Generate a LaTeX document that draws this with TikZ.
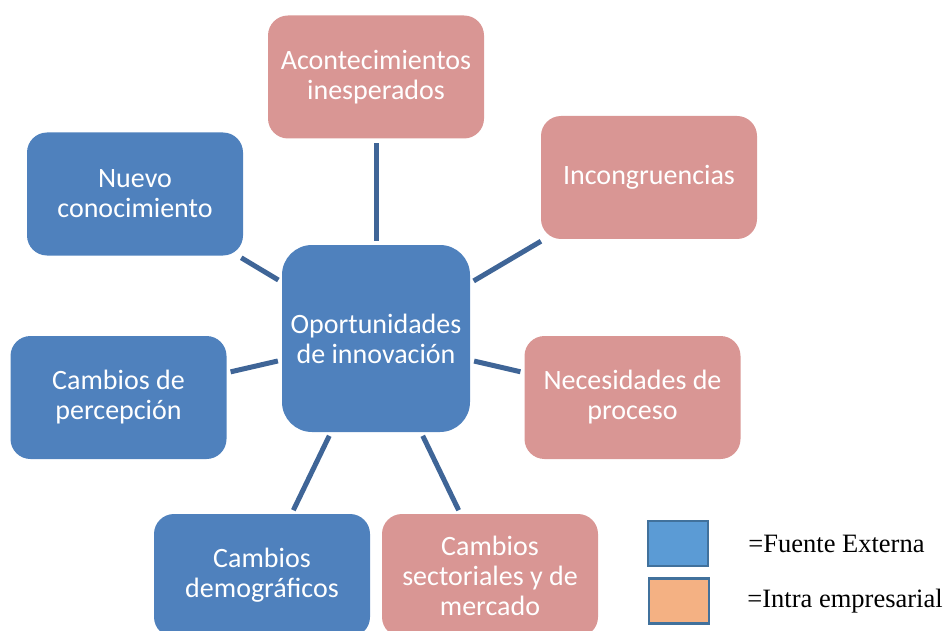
\documentclass[tikz,border=0pt]{standalone}
\usepackage{fontspec}
\setmainfont{Carlito}
\newfontfamily\legendfont{Liberation Serif}
\usetikzlibrary{positioning}
\definecolor{boxblue}{HTML}{4F81BD}
\definecolor{boxpink}{HTML}{D99694}
\definecolor{linkblue}{HTML}{3F6597}
\definecolor{keyblue}{HTML}{5B9BD5}
\definecolor{keyorange}{HTML}{F4B183}
\definecolor{keyedge}{HTML}{41719C}

\begin{document}
\begin{tikzpicture} [x=1pt,y=-1pt,{source/.style={rectangle,rounded corners=20pt,minimum width=216pt,minimum height=123pt,inner sep=0pt,text=white,align=center,font=\fontsize{28}{30}\selectfont}},{extern/.style={source,fill=boxblue}},{intern/.style={source,fill=boxpink}},{link/.style={color=linkblue,line width=5pt,shorten >=4pt,shorten <=4pt}},{keybox/.style={rectangle,draw=keyedge,line width=2.5pt,minimum width=60pt,minimum height=45pt,inner sep=0pt}},{keytext/.style={inner sep=0pt,font=\legendfont\fontsize{26.5}{30}\selectfont}}]
	%%frame of the page
	\useasboundingbox (0,0) rectangle (945,631);
	\clip (0,0) rectangle (945,631);
	%%sources
	\node [intern] (acont) at (376,77) {Acontecimientos\\inesperados};
	\node [intern] (incon) at (649,177.5) {Incongruencias};
	\node [extern] (nuevo) at (135,194) {Nuevo\\conocimiento};
	\node [extern,minimum width=188pt,minimum height=187pt,rounded corners=30pt] (oport) at (376,338.5) {Oportunidades\\de innovación};
	\node [extern] (percep) at (118.5,397.5) {Cambios de\\percepción};
	\node [intern] (neces) at (632.5,397.5) {Necesidades de\\proceso};
	\node [extern] (demog) at (262,575.5) {Cambios\\demográficos};
	\node [intern] (sector) at (490,575.5) {Cambios\\sectoriales y de\\mercado};
	
	%%links
	\draw [link] (oport) -- (acont);
	\draw [link] (oport) -- (incon);
	\draw [link] (oport) -- (nuevo);
	\draw [link] (oport) -- (percep);
	\draw [link] (oport) -- (neces);
	\draw [link] (oport) -- (demog);
	\draw [link] (oport) -- (sector);
	
	%%legend
	\node [keybox,fill=keyblue] (kext) at (678,543.5) {};
	\node [keybox,fill=keyorange] (kint) at (679,601) {};
	\node [keytext,right=39pt of kext] (text) {=Fuente Externa};
	\node [keytext,right=37pt of kint] (tint) {=Intra empresarial};

	\end{tikzpicture}
\end{document}
